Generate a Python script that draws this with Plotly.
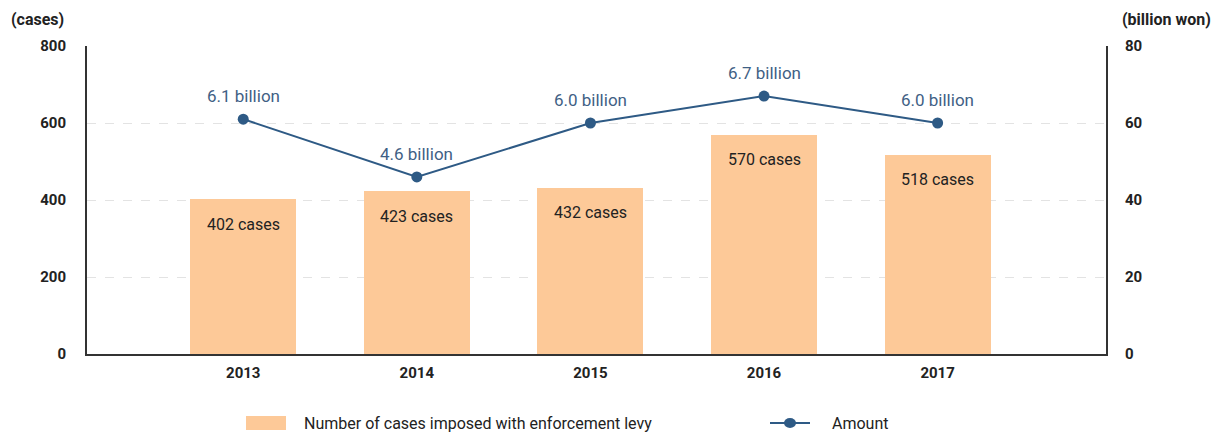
import plotly.graph_objects as go

# Enforcement levy: number of cases and amount by year
years = ["2013", "2014", "2015", "2016", "2017"]
cases = [402, 423, 432, 570, 518]
amount = [61, 46, 60, 67, 60]  # hundred-million won units, shown as billions
amount_labels = ["6.1 billion", "4.6 billion", "6.0 billion", "6.7 billion", "6.0 billion"]
case_labels = [f"{c} cases" for c in cases]

left_ticks = [0, 200, 400, 600, 800]
right_ticks = [0, 20, 40, 60, 80]

BAR_NAME = "Number of cases imposed with enforcement levy"
LINE_NAME = "Amount"

BAR_COLOR = "#fdc998"
LINE_COLOR = "#2e5a85"
LABEL_COLOR = "#3f5f85"
AXIS_COLOR = "#333333"
TEXT_COLOR = "#222222"
FONT = "Roboto"

# plot area in pixels (used to place the legend below it)
W, H = 1224, 434
L, R, T, B = 87, 118, 46, 80
PW, PH = W - L - R, H - T - B


def px_x(p):
    return (p - L) / PW


def px_y(p):
    return (H - B - p) / PH


xs = list(range(len(years)))

fig = go.Figure()

fig.add_trace(go.Bar(
    x=xs, y=cases, width=0.61,
    marker=dict(color=BAR_COLOR, line=dict(width=0)),
    name=BAR_NAME, showlegend=False, yaxis="y",
))

fig.add_trace(go.Scatter(
    x=xs, y=amount, mode="lines+markers",
    line=dict(color=LINE_COLOR, width=2),
    marker=dict(color=LINE_COLOR, size=11),
    name=LINE_NAME, showlegend=False, yaxis="y2",
))

annotations = []
for x, c, lab in zip(xs, cases, case_labels):
    annotations.append(dict(
        x=x, y=c, xref="x", yref="y", text=lab, showarrow=False,
        yshift=-25, font=dict(family=FONT, size=16, color=TEXT_COLOR),
    ))
for x, a, lab in zip(xs, amount, amount_labels):
    annotations.append(dict(
        x=x, y=a, xref="x", yref="y2", text=lab, showarrow=False,
        yshift=23, font=dict(family=FONT, size=17, color=LABEL_COLOR),
    ))

# axis unit labels
annotations.append(dict(
    x=0, y=1, xref="paper", yref="paper", xshift=-78, yshift=27,
    xanchor="left", yanchor="middle", text="(cases)", showarrow=False,
    font=dict(family=FONT, size=16, color=TEXT_COLOR, weight="bold"),
))
annotations.append(dict(
    x=1, y=1, xref="paper", yref="paper", xshift=14, yshift=27,
    xanchor="left", yanchor="middle", text="(billion won)", showarrow=False,
    font=dict(family=FONT, size=16, color=TEXT_COLOR, weight="bold"),
))

# legend drawn below the plot
leg_y = px_y(423)
annotations.append(dict(
    x=px_x(302), y=leg_y, xref="paper", yref="paper", xanchor="left",
    yanchor="middle", text=BAR_NAME, showarrow=False,
    font=dict(family=FONT, size=16, color=TEXT_COLOR),
))
annotations.append(dict(
    x=px_x(830), y=leg_y, xref="paper", yref="paper", xanchor="left",
    yanchor="middle", text=LINE_NAME, showarrow=False,
    font=dict(family=FONT, size=16, color=TEXT_COLOR),
))
shapes = [
    dict(type="rect", xref="paper", yref="paper",
         x0=px_x(246), x1=px_x(286), y0=px_y(430), y1=px_y(416),
         fillcolor=BAR_COLOR, line=dict(width=0)),
    dict(type="line", xref="paper", yref="paper",
         x0=px_x(770), x1=px_x(810), y0=leg_y, y1=leg_y,
         line=dict(color=LINE_COLOR, width=2)),
    dict(type="circle", xref="paper", yref="paper",
         x0=px_x(784), x1=px_x(796), y0=px_y(428), y1=px_y(418),
         fillcolor=LINE_COLOR, line=dict(width=0)),
]

fig.update_layout(
    width=W, height=H,
    margin=dict(l=L, r=R, t=T, b=B),
    paper_bgcolor="white", plot_bgcolor="white",
    font=dict(family=FONT, size=14, color=TEXT_COLOR),
    bargap=0,
    showlegend=False,
    xaxis=dict(
        range=[-0.9, 4.97], tickvals=xs, ticktext=years,
        showgrid=False, zeroline=False,
        showline=True, linecolor=AXIS_COLOR, linewidth=2,
        ticks="", ticklabelstandoff=4,
        tickfont=dict(family=FONT, size=15, color=TEXT_COLOR, weight="bold"),
    ),
    yaxis=dict(
        range=[0, 800], tickvals=left_ticks,
        showgrid=True, gridcolor="#e3e3e3", griddash="dash", gridwidth=1,
        zeroline=False, showline=True, linecolor=AXIS_COLOR, linewidth=2,
        ticks="", ticklabelstandoff=16,
        tickfont=dict(family=FONT, size=15, color=TEXT_COLOR, weight="bold"),
    ),
    yaxis2=dict(
        range=[0, 80], tickvals=right_ticks, overlaying="y", side="right",
        showgrid=False, zeroline=False,
        showline=True, linecolor=AXIS_COLOR, linewidth=2,
        ticks="", ticklabelstandoff=14,
        tickfont=dict(family=FONT, size=15, color=TEXT_COLOR, weight="bold"),
    ),
    annotations=annotations,
    shapes=shapes,
)

fig.write_html("out.html")
